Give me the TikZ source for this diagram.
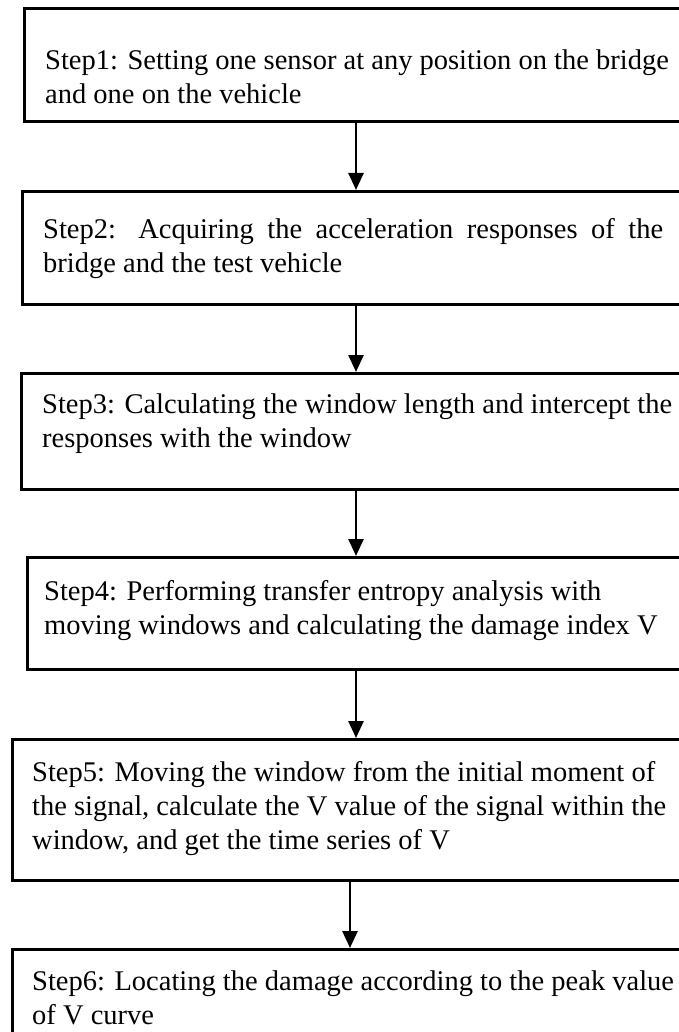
\documentclass[tikz,border=0pt]{standalone}
\usepackage{fontspec}
\setmainfont{Liberation Serif}
\usetikzlibrary{arrows.meta}
\begin{document}
\begin{tikzpicture}[x=1pt,y=-1pt,
  stepbox/.style={draw=black,line width=2.6pt,rectangle,anchor=north west,inner sep=0pt,minimum width=720pt,minimum height=#1},
  steptext/.style={anchor=north west,inner sep=0pt,align=left,font=\fontsize{28.5}{34}\selectfont},
  arr/.style={line width=2.6pt,-{Triangle[length=17pt,width=15pt]}}]
\useasboundingbox (0,0) rectangle (679,1032);
\clip (0,0) rectangle (679,1032);
\fill[white] (0,0) rectangle (679,1032);
% boxes
\node[stepbox=113pt] (b1) at (23,7) {};
\node[stepbox=113pt] (b2) at (21,190) {};
\node[stepbox=116pt] (b3) at (20,372) {};
\node[stepbox=112pt] (b4) at (26,556) {};
\node[stepbox=141pt] (b5) at (11,738) {};
\node[stepbox=140pt] (b6) at (11,948) {};
% texts
\node[steptext] (t1) at (45,46) {\strut Step1: Setting one sensor at any position on the bridge\\and one on the vehicle};
\node[steptext] (t2) at (43,214) {\strut\makebox[620pt][s]{Step2: Acquiring the acceleration responses of the}\\bridge and the test vehicle};
\node[steptext] (t3) at (42,389) {\strut Step3: Calculating the window length and intercept the\\responses with the window};
\node[steptext] (t4) at (44,576) {\strut Step4: Performing transfer entropy analysis with\\moving windows and calculating the damage index V};
\node[steptext] (t5) at (32,757) {\strut Step5: Moving the window from the initial moment of\\the signal, calculate the V value of the signal within the\\window, and get the time series of V};
\node[steptext] (t6) at (32,966) {\strut Step6: Locating the damage according to the peak value\\of V curve};
% arrows
\coordinate (ax) at (356,0);
\coordinate (ay) at (350,0);
\draw[arr] (b1.south -| ax) -- (b2.north -| ax);
\draw[arr] (b2.south -| ax) -- (b3.north -| ax);
\draw[arr] (b3.south -| ax) -- (b4.north -| ax);
\draw[arr] (b4.south -| ax) -- (b5.north -| ax);
\draw[arr] (b5.south -| ay) -- (b6.north -| ay);
\end{tikzpicture}
\end{document}
